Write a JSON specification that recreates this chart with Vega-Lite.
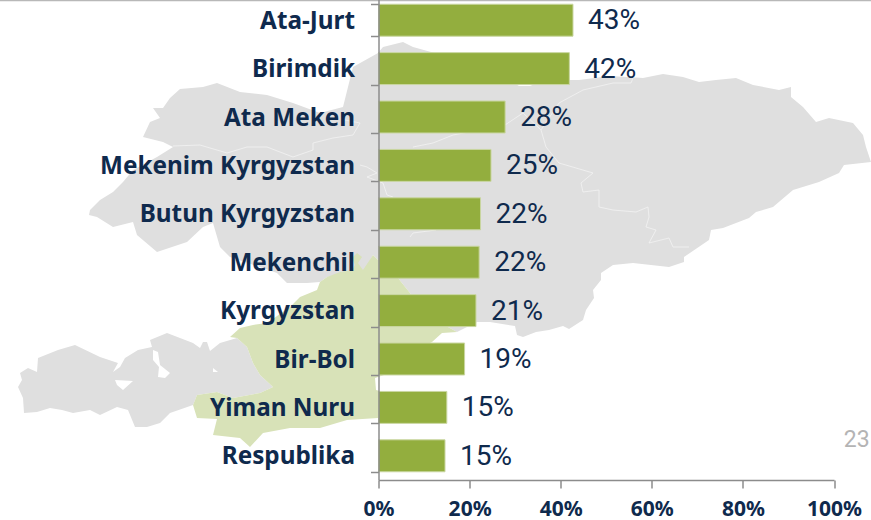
{
"$schema":"https://vega.github.io/schema/vega-lite/v6.json",
"width":455.5,"height":480,
"autosize":"none",
"padding":{"left":378.5,"top":0,"right":37,"bottom":40},
"background":"white",
"config":{"view":{"stroke":null}},
"datasets":{
"parties":[
{"party":"Ata-Jurt","share":0.427},
{"party":"Birimdik","share":0.419},
{"party":"Ata Meken","share":0.278},
{"party":"Mekenim Kyrgyzstan","share":0.247},
{"party":"Butun Kyrgyzstan","share":0.224},
{"party":"Mekenchil","share":0.221},
{"party":"Kyrgyzstan","share":0.214},
{"party":"Bir-Bol","share":0.189},
{"party":"Yiman Nuru","share":0.150},
{"party":"Respublika","share":0.146}
]},
"layer":[
{"data":{"values":[
{"type":"Feature","properties":{"region":"north"},"geometry":{"type":"Polygon","coordinates":[[[143,137],[150,122],[160,118],[153,108],[163,108],[170,98],[180,89],[203,87],[217,83],[240,92],[267,95],[293,103],[320,113],[343,107],[348,87],[353,67],[378,53],[383,47],[403,42],[413,47],[460,60],[500,75],[519,86],[530,86],[545,80],[579,80],[610,76],[643,78],[663,74],[683,77],[699,82],[716,80],[736,78],[753,85],[779,90],[791,87],[791,97],[803,107],[816,122],[829,118],[853,123],[863,135],[866,147],[871,162],[844,165],[839,173],[819,182],[793,190],[773,207],[756,212],[749,218],[723,228],[711,230],[709,240],[684,257],[684,262],[669,267],[633,263],[613,265],[601,273],[601,280],[593,290],[594,298],[586,310],[583,320],[569,329],[563,326],[549,330],[536,332],[523,337],[517,335],[515,326],[490,322],[477,322],[457,332],[448,327],[425,318],[410,293],[398,278],[390,270],[378,260],[373,255],[363,273],[327,277],[320,282],[307,283],[287,283],[277,273],[245,262],[230,257],[220,247],[213,223],[203,227],[187,242],[157,252],[137,235],[133,222],[113,227],[97,217],[89,215],[90,210],[100,200],[113,192],[123,182],[133,170],[157,157],[173,147],[163,142],[143,137]]]}},
{"type":"Feature","properties":{"region":"batken"},"geometry":{"type":"Polygon","coordinates":[[[237,338],[220,343],[210,351],[207,342],[203,342],[200,348],[193,343],[167,333],[150,340],[152,347],[138,350],[125,358],[120,367],[113,372],[118,363],[100,357],[75,345],[58,350],[38,358],[37,372],[28,368],[20,373],[22,380],[18,387],[23,398],[24,413],[37,412],[50,408],[62,410],[73,413],[90,410],[100,415],[117,407],[128,410],[135,427],[147,427],[160,423],[170,413],[193,405],[197,395],[217,392],[233,398],[260,393],[273,387],[260,375],[253,363],[247,347],[237,338]],[[153,350],[158,352],[160,365],[170,373],[165,378],[158,377],[159,367],[153,360],[153,350]],[[213,368],[218,372],[213,372],[213,368]],[[115,380],[133,381],[123,390],[117,385],[115,380]]]}},
{"type":"Feature","properties":{"region":"osh"},"geometry":{"type":"Polygon","coordinates":[[[357,253],[362,257],[358,263],[363,270],[373,255],[378,260],[390,270],[398,278],[410,293],[425,318],[448,327],[457,332],[442,333],[432,342],[415,350],[384,375],[375,378],[376,390],[384,392],[384,410],[378,418],[347,420],[320,428],[290,428],[263,433],[250,447],[240,438],[213,435],[217,419],[197,418],[193,405],[197,395],[217,392],[233,398],[260,393],[273,387],[260,375],[253,363],[247,347],[237,338],[230,337],[240,328],[253,325],[267,323],[290,307],[300,297],[317,290],[320,282],[327,277],[340,272],[352,270],[355,265],[352,258],[357,253]]]}}
]},
"mark":{"type":"geoshape","strokeWidth":0,"clip":false},
"projection":{"type":"identity","scale":1,"translate":[-378.5,0]},
"encoding":{"color":{"field":"properties.region","type":"nominal","legend":null,"scale":{"domain":["north","batken","osh"],"range":["#dfdfdf","#dfdfdf","#d8e2b8"]}}}
},
{"data":{"values":[
{"type":"Feature","properties":{"name":"a"},"geometry":{"type":"LineString","coordinates":[[173,146],[200,145],[227,153],[247,147],[267,147],[293,157],[313,150],[313,143],[333,138],[353,135],[360,123],[345,120]]}},
{"type":"Feature","properties":{"name":"b"},"geometry":{"type":"LineString","coordinates":[[413,147],[433,143],[453,135],[505,125],[523,113],[541,130],[546,147],[559,163],[593,173],[581,183],[583,192],[599,190],[599,207],[613,210],[636,212],[648,207],[649,217],[646,227],[656,230],[649,243],[669,238],[673,247],[689,247]]}},
{"type":"Feature","properties":{"name":"c"},"geometry":{"type":"LineString","coordinates":[[541,130],[559,103],[583,90],[613,83],[631,83],[633,78]]}},
{"type":"Feature","properties":{"name":"d"},"geometry":{"type":"LineString","coordinates":[[360,165],[367,167],[377,173],[367,177],[383,183],[387,195],[393,197]]}},
{"type":"Feature","properties":{"name":"e"},"geometry":{"type":"LineString","coordinates":[[410,237],[413,233],[436,230]]}}
]},
"mark":{"type":"geoshape","filled":false,"stroke":"#f2f2f2","strokeWidth":0.8,"clip":false},
"projection":{"type":"identity","scale":1,"translate":[-378.5,0]}
},
{"data":{"name":"parties"},
"mark":{"type":"bar","fill":"#93ae3e","stroke":"#c9d6a0","strokeWidth":1},
"encoding":{
"y":{"field":"party","type":"nominal","title":null,
"scale":{"domain":["Ata-Jurt","Birimdik","Ata Meken","Mekenim Kyrgyzstan","Butun Kyrgyzstan","Mekenchil","Kyrgyzstan","Bir-Bol","Yiman Nuru","Respublika"],"range":[-4,480],"paddingInner":0.34,"paddingOuter":0.17},
"axis":{"zindex":1,"tickBand":"extent","domainColor":"#8c8c8c","domainWidth":1.5,"tickColor":"#8c8c8c","tickWidth":1.5,"tickSize":8,"labelPadding":16,"labelOffset":1,"labelFont":"Noto Sans","labelFontWeight":"bold","labelFontSize":24.3,"labelColor":"#0f2a4d","labelLimit":400}},
"x":{"field":"share","type":"quantitative","title":null,"stack":null,
"scale":{"domain":[0,1],"nice":false},
"axis":{"zindex":1,"values":[0,0.2,0.4,0.6,0.8,1],"format":".0%","grid":false,"domainColor":"#8c8c8c","domainWidth":1.5,"tickColor":"#8c8c8c","tickWidth":1.5,"tickSize":8,"labelPadding":10,"labelFont":"Noto Sans","labelFontWeight":"bold","labelFontSize":21,"labelColor":"#0f2a4d","labelFlush":false,"labelOverlap":false}}
}},
{"data":{"name":"parties"},
"mark":{"type":"text","align":"left","baseline":"middle","dx":15,"dy":1,"font":"Roboto","fontSize":28,"color":"#0f2a4d"},
"encoding":{
"y":{"field":"party","type":"nominal"},
"x":{"field":"share","type":"quantitative"},
"text":{"field":"share","type":"quantitative","format":".0%"}
}},
{"data":{"values":[{"page":"23","party":"Respublika","pos":1.05}]},
"mark":{"type":"text","align":"center","baseline":"middle","font":"Roboto","fontSize":23,"color":"#b4b4b4"},
"encoding":{
"y":{"field":"party","type":"nominal","bandPosition":0},
"x":{"field":"pos","type":"quantitative"},
"text":{"field":"page"}
}},
{"data":{"values":[{"from":-0.84,"to":1.09}]},
"mark":{"type":"rule","stroke":"#b8b8b8","strokeWidth":1.5,"clip":false},
"encoding":{
"x":{"field":"from","type":"quantitative"},
"x2":{"field":"to"},
"y":{"value":0.5}
}}
]
}
